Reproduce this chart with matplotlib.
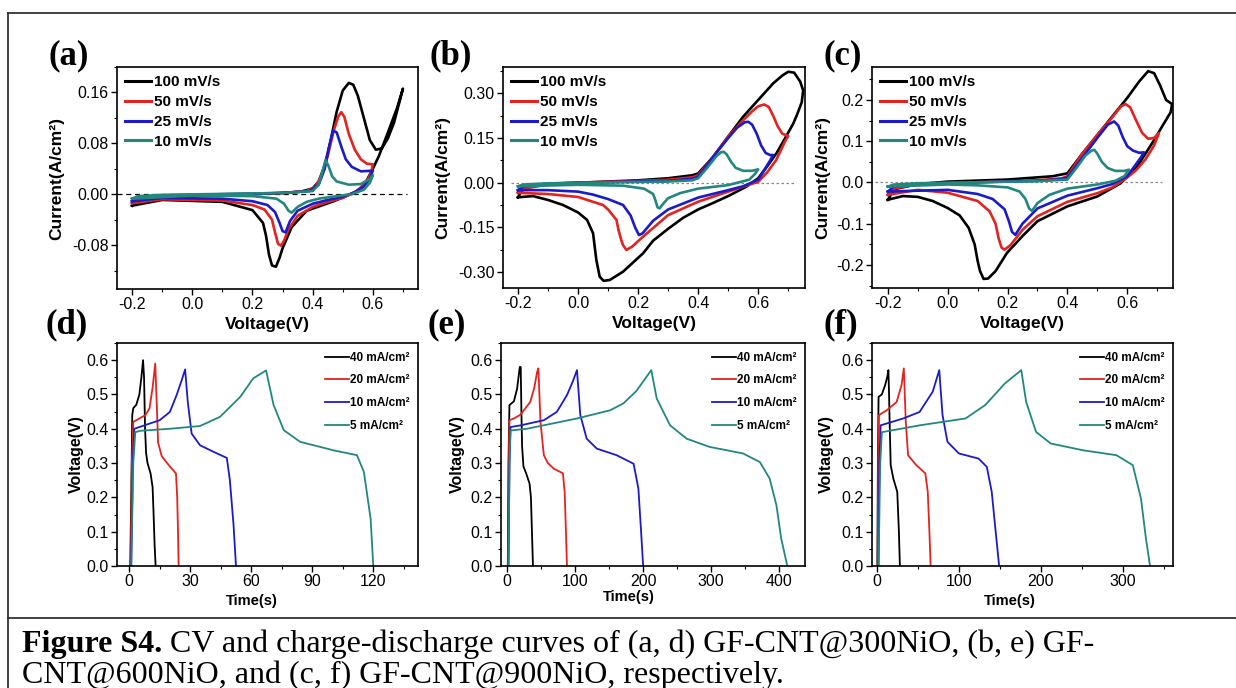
import matplotlib
matplotlib.use("Agg")
import matplotlib.pyplot as plt
from matplotlib.lines import Line2D
from matplotlib.ticker import AutoMinorLocator, FormatStrFormatter

plt.rcParams['font.family'] = ['Liberation Sans', 'DejaVu Sans']
plt.rcParams['axes.unicode_minus'] = False

# ---------------- CV data (V, A/cm2) ----------------
# (a) GF-CNT@300NiO
a100_v = [-0.2, -0.19, -0.15, -0.1, 0.0, 0.1, 0.2, 0.3, 0.36, 0.4, 0.42, 0.44, 0.46, 0.48, 0.50, 0.52, 0.535, 0.55, 0.57, 0.59, 0.61, 0.63, 0.65, 0.67, 0.70,
          0.68, 0.65, 0.62, 0.60, 0.58, 0.56, 0.54, 0.47, 0.38, 0.33, 0.30, 0.29, 0.278, 0.265, 0.255, 0.245, 0.235, 0.2, 0.1, -0.1, -0.2]
a100_i = [-0.018, -0.01, -0.006, -0.004, -0.002, -0.001, 0.0, 0.002, 0.004, 0.009, 0.02, 0.045, 0.085, 0.13, 0.163, 0.175, 0.172, 0.155, 0.12, 0.085, 0.07, 0.072, 0.088, 0.112, 0.166,
          0.135, 0.097, 0.06, 0.04, 0.022, 0.01, 0.003, -0.011, -0.026, -0.052, -0.085, -0.1, -0.114, -0.112, -0.095, -0.065, -0.045, -0.025, -0.012, -0.009, -0.018]
a50_v = [-0.2, -0.18, -0.1, 0.1, 0.3, 0.38, 0.41, 0.43, 0.45, 0.47, 0.485, 0.495, 0.505, 0.52, 0.54, 0.56, 0.58, 0.6,
         0.595, 0.58, 0.55, 0.5, 0.45, 0.4, 0.35, 0.32, 0.305, 0.295, 0.285, 0.275, 0.265, 0.24, 0.2, 0.1, -0.1, -0.2]
a50_i = [-0.014, -0.007, -0.003, -0.001, 0.002, 0.005, 0.012, 0.03, 0.06, 0.1, 0.122, 0.129, 0.122, 0.095, 0.07, 0.055, 0.048, 0.047,
         0.035, 0.02, 0.006, -0.006, -0.012, -0.02, -0.034, -0.055, -0.073, -0.081, -0.078, -0.06, -0.04, -0.024, -0.017, -0.01, -0.008, -0.014]
a25_v = [-0.2, -0.18, -0.1, 0.3, 0.39, 0.42, 0.44, 0.455, 0.468, 0.48, 0.495, 0.51, 0.53, 0.56, 0.6,
         0.59, 0.57, 0.54, 0.5, 0.45, 0.4, 0.35, 0.325, 0.31, 0.3, 0.29, 0.275, 0.25, 0.2, 0.1, -0.1, -0.2]
a25_i = [-0.011, -0.005, -0.002, 0.002, 0.005, 0.015, 0.04, 0.075, 0.1, 0.097, 0.075, 0.055, 0.043, 0.036, 0.037,
         0.025, 0.012, 0.003, -0.004, -0.009, -0.015, -0.026, -0.042, -0.06, -0.058, -0.045, -0.028, -0.017, -0.011, -0.007, -0.006, -0.011]
a10_v = [-0.2, -0.18, -0.1, 0.3, 0.4, 0.42, 0.435, 0.443, 0.452, 0.465, 0.48, 0.52, 0.56, 0.59, 0.6,
         0.59, 0.57, 0.53, 0.48, 0.42, 0.38, 0.35, 0.33, 0.32, 0.305, 0.28, 0.2, 0.0, -0.2]
a10_i = [-0.007, -0.003, -0.001, 0.002, 0.005, 0.015, 0.04, 0.054, 0.045, 0.028, 0.02, 0.015, 0.016, 0.024, 0.03,
         0.018, 0.007, 0.0, -0.003, -0.007, -0.012, -0.02, -0.029, -0.026, -0.015, -0.007, -0.003, -0.002, -0.007]

# (b) GF-CNT@600NiO
b100_v = [-0.2, -0.19, -0.17, -0.1, 0.0, 0.2, 0.3, 0.38, 0.4, 0.45, 0.5, 0.55, 0.6, 0.65, 0.68, 0.70, 0.72, 0.74, 0.75,
          0.745, 0.73, 0.717, 0.69, 0.661, 0.63, 0.6, 0.561, 0.5, 0.45, 0.4, 0.35, 0.3, 0.25, 0.217, 0.15, 0.106, 0.085, 0.072, 0.061, 0.05, 0.03, 0.0, -0.05, -0.1, -0.15, -0.2]
b100_i = [-0.049, -0.03, -0.012, -0.003, 0.0, 0.008, 0.015, 0.025, 0.031, 0.087, 0.155, 0.222, 0.278, 0.334, 0.36, 0.373, 0.37, 0.34, 0.31,
          0.27, 0.23, 0.199, 0.15, 0.099, 0.055, 0.015, -0.013, -0.045, -0.068, -0.09, -0.118, -0.155, -0.195, -0.237, -0.299, -0.327, -0.33, -0.316, -0.26, -0.17, -0.125, -0.1, -0.075, -0.058, -0.045, -0.049]
b50_v = [-0.2, -0.18, -0.1, 0.0, 0.2, 0.3, 0.38, 0.4, 0.45, 0.5, 0.55, 0.58, 0.6, 0.62, 0.635, 0.65, 0.665, 0.68, 0.7,
         0.69, 0.66, 0.63, 0.6, 0.5, 0.4, 0.3, 0.217, 0.18, 0.161, 0.15, 0.144, 0.135, 0.128, 0.1, 0.083, 0.0, -0.1, -0.2]
b50_i = [-0.034, -0.02, -0.006, 0.0, 0.006, 0.01, 0.018, 0.025, 0.087, 0.155, 0.21, 0.24, 0.257, 0.263, 0.255, 0.225, 0.19, 0.165, 0.157,
         0.14, 0.076, 0.035, 0.003, -0.03, -0.064, -0.109, -0.181, -0.215, -0.226, -0.21, -0.193, -0.16, -0.125, -0.09, -0.075, -0.048, -0.038, -0.034]
b25_v = [-0.2, -0.18, -0.1, 0.0, 0.3, 0.38, 0.4, 0.45, 0.5, 0.53, 0.555, 0.567, 0.58, 0.595, 0.61, 0.625, 0.64, 0.65,
         0.64, 0.62, 0.6, 0.55, 0.5, 0.4, 0.3, 0.25, 0.215, 0.203, 0.19, 0.175, 0.15, 0.1, 0.05, 0.0, -0.1, -0.2]
b25_i = [-0.025, -0.012, -0.004, 0.0, 0.006, 0.013, 0.02, 0.087, 0.15, 0.185, 0.203, 0.205, 0.195, 0.165, 0.125, 0.1, 0.093, 0.093,
         0.075, 0.042, 0.01, -0.012, -0.025, -0.05, -0.09, -0.128, -0.17, -0.176, -0.15, -0.11, -0.075, -0.055, -0.04, -0.03, -0.025, -0.025]
b10_v = [-0.2, -0.18, -0.1, 0.3, 0.38, 0.4, 0.43, 0.46, 0.475, 0.485, 0.495, 0.51, 0.525, 0.55, 0.58, 0.6,
         0.59, 0.57, 0.5, 0.4, 0.34, 0.3, 0.28, 0.272, 0.265, 0.258, 0.25, 0.22, 0.15, 0.0, -0.2]
b10_i = [-0.012, -0.006, -0.002, 0.004, 0.008, 0.015, 0.05, 0.088, 0.102, 0.104, 0.095, 0.07, 0.05, 0.04, 0.04, 0.045,
         0.03, 0.01, -0.008, -0.02, -0.035, -0.052, -0.075, -0.086, -0.083, -0.06, -0.038, -0.02, -0.01, -0.007, -0.012]

# (c) GF-CNT@900NiO
c100_v = [-0.2, -0.19, -0.17, -0.1, 0.0, 0.2, 0.35, 0.4, 0.45, 0.5, 0.55, 0.6, 0.64, 0.67, 0.69, 0.71, 0.73, 0.75,
          0.745, 0.72, 0.69, 0.634, 0.578, 0.5, 0.4, 0.3, 0.25, 0.198, 0.16, 0.135, 0.12, 0.108, 0.1, 0.09, 0.07, 0.04, 0.0, -0.05, -0.1, -0.15, -0.2]
c100_i = [-0.042, -0.03, -0.015, -0.004, 0.002, 0.007, 0.015, 0.022, 0.07, 0.115, 0.16, 0.205, 0.245, 0.27, 0.265, 0.235, 0.2, 0.19,
          0.17, 0.14, 0.103, 0.039, -0.002, -0.034, -0.058, -0.094, -0.13, -0.171, -0.215, -0.233, -0.234, -0.215, -0.19, -0.15, -0.11, -0.08, -0.062, -0.045, -0.035, -0.033, -0.042]
c50_v = [-0.2, -0.18, -0.1, 0.3, 0.38, 0.4, 0.45, 0.5, 0.55, 0.58, 0.595, 0.61, 0.63, 0.65, 0.67, 0.69, 0.706,
         0.69, 0.66, 0.63, 0.6, 0.55, 0.5, 0.4, 0.3, 0.25, 0.21, 0.19, 0.18, 0.17, 0.16, 0.14, 0.1, 0.0, -0.1, -0.2]
c50_i = [-0.03, -0.015, -0.004, 0.005, 0.01, 0.015, 0.07, 0.115, 0.158, 0.185, 0.19, 0.182, 0.15, 0.12, 0.106, 0.108, 0.12,
         0.09, 0.055, 0.03, 0.012, -0.012, -0.026, -0.047, -0.082, -0.115, -0.152, -0.163, -0.158, -0.135, -0.1, -0.07, -0.045, -0.025, -0.018, -0.03]
c25_v = [-0.2, -0.18, -0.1, 0.3, 0.38, 0.4, 0.45, 0.5, 0.535, 0.556, 0.57, 0.585, 0.6, 0.62, 0.64, 0.656,
         0.645, 0.62, 0.6, 0.55, 0.5, 0.4, 0.3, 0.25, 0.226, 0.215, 0.205, 0.19, 0.15, 0.1, 0.0, -0.2]
c25_i = [-0.022, -0.01, -0.003, 0.004, 0.008, 0.012, 0.06, 0.108, 0.14, 0.148, 0.138, 0.11, 0.088, 0.077, 0.072, 0.073,
         0.06, 0.035, 0.015, -0.004, -0.014, -0.032, -0.063, -0.1, -0.127, -0.12, -0.095, -0.065, -0.04, -0.028, -0.018, -0.022]
c10_v = [-0.2, -0.18, -0.1, 0.3, 0.4, 0.43, 0.46, 0.48, 0.49, 0.5, 0.515, 0.535, 0.56, 0.59, 0.606,
         0.59, 0.56, 0.5, 0.4, 0.34, 0.3, 0.282, 0.272, 0.26, 0.24, 0.2, 0.1, 0.0, -0.2]
c10_i = [-0.01, -0.005, -0.002, 0.003, 0.007, 0.035, 0.065, 0.077, 0.079, 0.07, 0.05, 0.035, 0.028, 0.028, 0.031,
         0.015, 0.004, -0.005, -0.015, -0.03, -0.05, -0.069, -0.063, -0.04, -0.022, -0.012, -0.007, -0.005, -0.01]

# ---------------- Charge-discharge data (s, V) ----------------
d40_t = [0.5, 1.0, 1.5, 2.0, 3.5, 5.0, 6.0, 6.8, 7.3, 7.8, 8.3, 9.0, 10.5, 11.5, 12.0, 12.5, 13.0]
d40_v = [0.0, 0.2, 0.44, 0.46, 0.47, 0.5, 0.55, 0.6, 0.55, 0.4, 0.33, 0.3, 0.27, 0.23, 0.15, 0.06, 0.0]
d20_t = [0.8, 1.3, 2.0, 5.0, 8.0, 10.0, 11.5, 12.8, 13.5, 14.2, 16.0, 20.0, 23.0, 23.6, 24.0, 24.3]
d20_v = [0.0, 0.3, 0.42, 0.43, 0.44, 0.46, 0.52, 0.59, 0.48, 0.36, 0.32, 0.29, 0.27, 0.2, 0.1, 0.0]
d10_t = [1.0, 1.8, 2.5, 5, 15, 20, 23.3, 26, 27.5, 28.8, 30.7, 34.8, 41.4, 48, 49.5, 51.3, 52.5]
d10_v = [0.0, 0.3, 0.4, 0.405, 0.425, 0.449, 0.498, 0.545, 0.573, 0.478, 0.386, 0.352, 0.333, 0.315, 0.25, 0.12, 0.0]
d5_t = [1.0, 2.0, 3.0, 5.3, 20, 34.8, 44.7, 54.6, 61, 67.3, 71, 76, 84, 100.6, 112, 115.4, 118.7, 120]
d5_v = [0.0, 0.3, 0.39, 0.394, 0.4, 0.408, 0.435, 0.493, 0.547, 0.57, 0.469, 0.396, 0.362, 0.337, 0.323, 0.274, 0.138, 0.0]

e40_t = [1.0, 2.0, 3.4, 10, 14.7, 18.6, 20, 21, 22, 24, 28, 33, 35, 36.5, 38]
e40_v = [0.0, 0.3, 0.469, 0.48, 0.517, 0.58, 0.58, 0.45, 0.35, 0.29, 0.27, 0.24, 0.2, 0.1, 0.0]
e20_t = [1.5, 2.5, 3.5, 10, 19.6, 34, 40, 44, 46, 49, 54, 60, 68.5, 82, 84.6, 86.5, 88]
e20_v = [0.0, 0.3, 0.425, 0.43, 0.441, 0.478, 0.52, 0.565, 0.576, 0.42, 0.323, 0.3, 0.284, 0.27, 0.216, 0.1, 0.0]
e10_t = [2, 3.5, 5, 20, 54, 73, 88, 97, 102.7, 107.6, 117, 132, 161, 186, 193, 197, 200]
e10_v = [0.0, 0.3, 0.405, 0.41, 0.425, 0.449, 0.498, 0.54, 0.571, 0.44, 0.371, 0.342, 0.323, 0.298, 0.226, 0.1, 0.0]
e5_t = [2, 3.5, 5, 29, 102.7, 151.6, 171, 190, 212, 220, 239.6, 264, 298, 347, 371.6, 386, 396, 403, 412]
e5_v = [0.0, 0.3, 0.395, 0.40, 0.43, 0.454, 0.474, 0.51, 0.571, 0.488, 0.41, 0.371, 0.347, 0.328, 0.303, 0.255, 0.177, 0.08, 0.0]

f40_t = [0.5, 1.2, 2, 6, 10, 12.5, 14, 14.8, 15.5, 16.8, 20, 24.8, 26.8, 28]
f40_v = [0.0, 0.3, 0.493, 0.50, 0.527, 0.55, 0.571, 0.5, 0.42, 0.294, 0.255, 0.216, 0.1, 0.0]
f20_t = [1.0, 1.6, 2.5, 12, 24, 30, 32.8, 35.2, 38, 48, 59, 62, 64, 65.5]
f20_v = [0.0, 0.3, 0.44, 0.454, 0.478, 0.527, 0.576, 0.42, 0.323, 0.294, 0.27, 0.216, 0.1, 0.0]
f10_t = [2, 3, 4.5, 32, 52, 68, 76, 80, 86, 100, 124, 134, 140, 144.8, 149]
f10_v = [0.0, 0.3, 0.41, 0.43, 0.449, 0.508, 0.571, 0.44, 0.362, 0.328, 0.313, 0.289, 0.216, 0.1, 0.0]
f5_t = [2, 4, 6, 52, 108, 132, 156, 176, 182, 194, 212, 252, 292, 312, 322, 328, 333]
f5_v = [0.0, 0.3, 0.39, 0.41, 0.43, 0.469, 0.532, 0.571, 0.478, 0.391, 0.357, 0.337, 0.323, 0.294, 0.196, 0.08, 0.0]

cv_labels = ['100 mV/s', '50 mV/s', '25 mV/s', '10 mV/s']
gcd_labels = ['40 mA/cm²', '20 mA/cm²', '10 mA/cm²', '5 mA/cm²']
colors = ['#000000', '#e3231f', '#1b1bc9', '#23877e']

caption_bold = 'Figure S4.'
caption_line1 = ' CV and charge-discharge curves of (a, d) GF-CNT@300NiO, (b, e) GF-'
caption_line2 = 'CNT@600NiO, and (c, f) GF-CNT@900NiO, respectively.'

W, H = 1236, 688
fig = plt.figure(figsize=(W / 100, H / 100), dpi=100)


def px_axes(l, t, r, b):
    return fig.add_axes([l / W, 1 - b / H, (r - l) / W, (b - t) / H])


def style(ax, xticks, yticks, xfmt, yfmt):
    ax.set_xticks(xticks)
    ax.set_yticks(yticks)
    ax.xaxis.set_major_formatter(FormatStrFormatter(xfmt))
    ax.yaxis.set_major_formatter(FormatStrFormatter(yfmt))
    ax.xaxis.set_minor_locator(AutoMinorLocator(2))
    ax.yaxis.set_minor_locator(AutoMinorLocator(2))
    ax.tick_params(which='major', direction='out', length=4, width=1, labelsize=11.5, pad=2, top=False, right=False)
    ax.tick_params(which='minor', direction='out', length=2.5, width=0.8, top=False, right=False)
    for s in ax.spines.values():
        s.set_linewidth(1.2)


# ---- CV panels ----
cv_sets = [
    ([(a100_v, a100_i), (a50_v, a50_i), (a25_v, a25_i), (a10_v, a10_i)], (117, 67, 418, 289),
     (-0.25, 0.75), (-0.149, 0.20), [0.16, 0.08, 0.00, -0.08], '%.2f', (0.0, 0.965), 'k', (0, (4, 3)), -0.176),
    ([(b100_v, b100_i), (b50_v, b50_i), (b25_v, b25_i), (b10_v, b10_i)], (503, 67, 805, 288),
     (-0.25, 0.756), (-0.354, 0.389), [0.30, 0.15, 0.00, -0.15, -0.30], '%.2f', (0.025, 0.97), '#888888', (0, (2, 2)), -0.175),
    ([(c100_v, c100_i), (c50_v, c50_i), (c25_v, c25_i), (c10_v, c10_i)], (872, 67, 1173, 288),
     (-0.253, 0.753), (-0.256, 0.28), [0.2, 0.1, 0.0, -0.1, -0.2], '%.1f', (0.01, 0.965), '#888888', (0, (2, 2)), -0.14),
]
for curves, box, xl, yl, yt, yfmt, zspan, zc, zls, ylx in cv_sets:
    ax = px_axes(*box)
    ax.axhline(0, xmin=zspan[0], xmax=zspan[1], color=zc, lw=0.9, ls=zls, zorder=1)
    for (x, y), c, lab in zip(curves, colors, cv_labels):
        ax.plot(x, y, color=c, lw=1.9, label=lab, zorder=2)
    ax.set_xlim(*xl)
    ax.set_ylim(*yl)
    style(ax, [-0.2, 0.0, 0.2, 0.4, 0.6], yt, '%.1f', yfmt)
    ax.set_xlabel('Voltage(V)', fontsize=12.5, fontweight='bold')
    ax.xaxis.set_label_coords(0.5, -0.128)
    ax.set_ylabel('Current(A/cm²)', fontsize=12.5, fontweight='bold')
    ax.yaxis.set_label_coords(ylx, 0.5)
    leg = ax.legend(loc='upper left', bbox_to_anchor=(0.0, 1.0), frameon=False, handlelength=1.65,
                    handletextpad=0.25, labelspacing=0.38, borderaxespad=0.25, borderpad=0.3,
                    prop={'weight': 'bold', 'size': 11})
    for h in leg.get_lines():
        h.set_linewidth(2.2)

# ---- charge-discharge panels ----
gcd_sets = [
    ([(d40_t, d40_v), (d20_t, d20_v), (d10_t, d10_v), (d5_t, d5_v)], (117, 343, 418, 566),
     (-6, 142), [0, 30, 60, 90, 120], (0.449, -0.126), -0.11),
    ([(e40_t, e40_v), (e20_t, e20_v), (e10_t, e10_v), (e5_t, e5_v)], (501, 343, 805, 566),
     (-9, 438), [0, 100, 200, 300, 400], (0.42, -0.108), -0.118),
    ([(f40_t, f40_v), (f20_t, f20_v), (f10_t, f10_v), (f5_t, f5_v)], (872, 343, 1173, 566),
     (-6, 361), [0, 100, 200, 300], (0.458, -0.126), -0.126),
]
for curves, box, xl, xt, tpos, ylx in gcd_sets:
    ax = px_axes(*box)
    for (x, y), c, lab in zip(curves, colors, gcd_labels):
        ax.plot(x, y, color=c, lw=1.3, label=lab)
    ax.set_xlim(*xl)
    ax.set_ylim(0, 0.65)
    style(ax, xt, [0.0, 0.1, 0.2, 0.3, 0.4, 0.5, 0.6], '%d', '%.1f')
    ax.set_xlabel('Time(s)', fontsize=10.5, fontweight='bold')
    ax.xaxis.set_label_coords(*tpos)
    ax.set_ylabel('Voltage(V)', fontsize=11.5, fontweight='bold')
    ax.yaxis.set_label_coords(ylx, 0.5)
    ax.legend(loc='upper right', frameon=False, handlelength=2.0, handletextpad=0.05,
              labelspacing=0.9, borderaxespad=0.35, borderpad=0.4,
              prop={'weight': 'bold', 'size': 8.5})

# ---- panel labels ----
for lab, x, y in [('(a)', 69, 56), ('(b)', 451, 56), ('(c)', 843, 56),
                  ('(d)', 67, 325), ('(e)', 447, 325), ('(f)', 841, 325)]:
    fig.text(x / W, 1 - y / H, lab, ha='center', va='center', fontsize=25,
             fontweight='bold', family='Liberation Serif')

# ---- frame lines ----
fig.add_artist(Line2D([8 / W, 1], [1 - 13 / H, 1 - 13 / H], color='#333333', lw=1.3, transform=fig.transFigure))
fig.add_artist(Line2D([8 / W, 8 / W], [0, 1 - 13 / H], color='#333333', lw=1.3, transform=fig.transFigure))
fig.add_artist(Line2D([8 / W, 1], [1 - 618 / H, 1 - 618 / H], color='#333333', lw=1.3, transform=fig.transFigure))

# ---- caption ----
cap_size = 23
x0, base1, base2 = 22, 652, 683
fig.canvas.draw()
rend = fig.canvas.get_renderer()
t_bold = fig.text(x0 / W, 1 - base1 / H, caption_bold, fontsize=cap_size, fontweight='bold',
                  family='Liberation Serif', va='baseline')
bold_w = t_bold.get_window_extent(rend).width
fig.text((x0 + bold_w) / W, 1 - base1 / H, caption_line1, fontsize=cap_size,
         family='Liberation Serif', va='baseline')
fig.text(x0 / W, 1 - base2 / H, caption_line2, fontsize=cap_size, family='Liberation Serif', va='baseline')

fig.savefig('out.png', dpi=100)
